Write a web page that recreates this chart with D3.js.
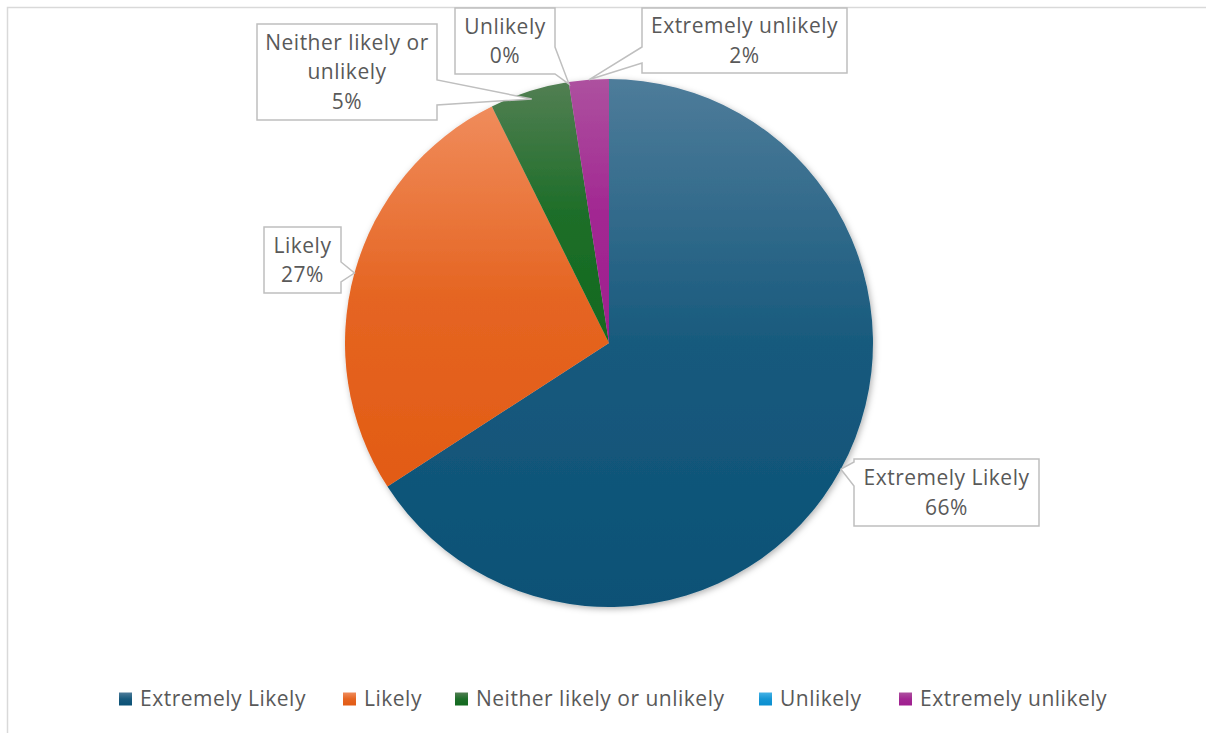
<!DOCTYPE html>
<html><head><meta charset="utf-8">
<script src="https://cdn.jsdelivr.net/npm/d3@7"></script>
<style>
html,body{margin:0;padding:0;background:#fff;}
svg{display:block;}
text{font-family:"Open Sans","Noto Sans",sans-serif;fill:#595959;letter-spacing:0.5px;}
</style></head>
<body>
<svg id="chart" width="1206" height="733"></svg>
<script>
// ---- data ----
const categories = ["Extremely Likely", "Likely", "Neither likely or unlikely", "Unlikely", "Extremely unlikely"];
const responses = [270, 110, 20, 0, 10];
const labelLines = [["Extremely Likely"], ["Likely"], ["Neither likely or", "unlikely"], ["Unlikely"], ["Extremely unlikely"]];

// ---- styles / layout ----
const colorsLight = ["#4e7c9a", "#f08c5c", "#527f53", "#45b2e6", "#ad519f"];
const colorsDark  = ["#0a5176", "#e25b14", "#116a1e", "#0a8fd0", "#9f1e8f"];
const cx = 609, cy = 343, R = 264;
const fontSize = 21;
// callout boxes: [x0,y0,x1,y1], side of pointer, base range along that side, tip radius
const callouts = [
  {box:[854,459,1039,526], side:"left",  base:[462,486], tipR:264},
  {box:[264,227,341,293],  side:"right", base:[262,282], tipR:264},
  {box:[257,24,437,120],   side:"right", base:[80,105],  tipR:256},
  {box:[455,8,555,74],     side:"right", base:[47,74],   tipR:262},
  {box:[642,8,847,73],     side:"left",  base:[47,63],   tipR:264}
];

const svg = d3.select("#chart");
const defs = svg.append("defs");

categories.forEach((c,i)=>{
  const g = defs.append("linearGradient").attr("id","grad"+i)
    .attr("x1",0).attr("y1",0).attr("x2",0).attr("y2",1);
  g.append("stop").attr("offset","0").attr("stop-color",colorsLight[i]);
  g.append("stop").attr("offset","0.5").attr("stop-color",d3.interpolateRgb(colorsLight[i],colorsDark[i])(0.8));
  g.append("stop").attr("offset","1").attr("stop-color",colorsDark[i]);
});
const f = defs.append("filter").attr("id","shadow").attr("x","-10%").attr("y","-10%").attr("width","120%").attr("height","120%");
f.append("feDropShadow").attr("dx",1.5).attr("dy",2).attr("stdDeviation",3).attr("flood-color","#000").attr("flood-opacity",0.3);

// chart border
svg.append("path").attr("d","M7.5,733 L7.5,7.5 L1206,7.5").attr("fill","none")
  .attr("stroke","#d9d9d9").attr("stroke-width",1.5);

const total = d3.sum(responses);
const pie = d3.pie().sort(null).value(d=>d);
const arcs = pie(responses);
const arc = d3.arc().innerRadius(0).outerRadius(R);

const gp = svg.append("g").attr("transform",`translate(${cx},${cy})`).attr("filter","url(#shadow)");
gp.selectAll("path").data(arcs).join("path")
  .attr("d",arc)
  .attr("fill",(d,i)=>`url(#grad${i})`);

// callouts
const gl = svg.append("g");
arcs.forEach((a,i)=>{
  const co = callouts[i];
  const mid = (a.startAngle + a.endAngle)/2;
  const tx = cx + co.tipR*Math.sin(mid), ty = cy - co.tipR*Math.cos(mid);
  const [x0,y0,x1,y1] = co.box;
  let p;
  if (co.side === "right") {
    p = `M${x0},${y0} L${x1},${y0} L${x1},${co.base[0]} L${tx},${ty} L${x1},${co.base[1]} L${x1},${y1} L${x0},${y1} Z`;
  } else {
    p = `M${x0},${y0} L${x1},${y0} L${x1},${y1} L${x0},${y1} L${x0},${co.base[1]} L${tx},${ty} L${x0},${co.base[0]} Z`;
  }
  gl.append("path").attr("d",p).attr("fill","#fff").attr("stroke","#bfbfbf").attr("stroke-width",1.5).attr("stroke-linejoin","miter");
  const lines = labelLines[i].concat([Math.round(responses[i]/total*100)+"%"]);
  const lh = 29.5;
  const midY = (y0+y1)/2;
  const t = gl.append("text").attr("text-anchor","middle").attr("font-size",fontSize);
  lines.forEach((ln,k)=>{
    t.append("tspan").attr("x",(x0+x1)/2)
      .attr("y", midY + (k - (lines.length-1)/2)*lh).attr("dy","0.35em").text(ln);
  });
});

// legend
const legendX = [119, 343, 455, 759, 899];
const lg = svg.append("g");
categories.forEach((c,i)=>{
  const g = lg.append("g").attr("transform",`translate(${legendX[i]},699)`);
  g.append("rect").attr("x",0).attr("y",-6.5).attr("width",13).attr("height",13).attr("fill",`url(#grad${i})`);
  g.append("text").attr("x",21).attr("y",0).attr("dy","0.35em").attr("font-size",fontSize).text(c);
});
</script>
</body></html>
